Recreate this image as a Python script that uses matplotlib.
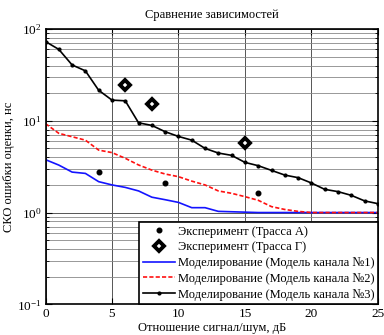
import matplotlib
matplotlib.use("Agg")
import matplotlib.pyplot as plt
from matplotlib.ticker import LogLocator, NullFormatter

plt.rcParams["font.family"] = ["Liberation Serif", "DejaVu Serif"]
plt.rcParams["mathtext.fontset"] = "stix"

snr = list(range(0, 26))
mod1 = [3.77, 3.29, 2.76, 2.67, 2.17, 2.0, 1.88, 1.72, 1.47, 1.38, 1.29, 1.13, 1.13,
        1.03, 1.02, 1.01, 1.0, 1.0, 1.0, 1.0, 1.0, 1.0, 1.0, 1.0, 1.0, 1.0]
mod2 = [9.3, 7.3, 6.7, 6.15, 4.79, 4.5, 3.9, 3.3, 2.9, 2.63, 2.46, 2.2, 2.0,
        1.72, 1.62, 1.49, 1.36, 1.16, 1.08, 1.03, 1.0, 1.0, 1.0, 1.0, 1.0, 1.0]
mod3 = [73, 60, 40.6, 35, 21.5, 16.8, 16.5, 9.5, 8.9, 7.6, 6.75, 6.15, 5.0,
        4.45, 4.2, 3.52, 3.24, 2.88, 2.56, 2.4, 2.1, 1.79, 1.69, 1.54, 1.34, 1.25]
exp_a_x = [4, 9, 16]
exp_a_y = [2.74, 2.1, 1.62]
exp_g_x = [6, 8, 15]
exp_g_y = [24.4, 15.2, 5.67]

fig = plt.figure(figsize=(3.84, 3.35), dpi=100)
ax = fig.add_axes([0.1185, 0.0916, 0.8655, 0.8218])

ax.plot(exp_a_x, exp_a_y, "o", color="k", ms=3.3, ls="none", label="Эксперимент (Трасса А)")
ax.plot(exp_g_x, exp_g_y, "D", mfc="white", mec="k", mew=2.8, ms=5.5, ls="none",
        label="Эксперимент (Трасса Г)")
ax.plot(snr, mod1, "-", color="#1414ff", lw=1.2, label="Моделирование (Модель канала №1)")
ax.plot(snr, mod2, "--", color="#ff1010", lw=1.2, dashes=(2.5, 1.3),
        label="Моделирование (Модель канала №2)")
ax.plot(snr, mod3, "-", color="k", lw=1.2, marker=".", ms=4,
        label="Моделирование (Модель канала №3)")

ax.set_yscale("log")
ax.set_xlim(0, 25)
ax.set_ylim(0.1, 100)
ax.set_xticks([0, 5, 10, 15, 20, 25])
ax.yaxis.set_major_locator(LogLocator(base=10, numticks=10))
ax.yaxis.set_minor_locator(LogLocator(base=10, subs=range(2, 10), numticks=10))
ax.yaxis.set_minor_formatter(NullFormatter())
ax.grid(True, which="major", color="#555555", lw=0.7)
ax.grid(True, which="minor", axis="y", color="#888888", lw=0.6)
ax.tick_params(which="both", direction="in", top=True, right=True, labelsize=9.5, pad=3)
ax.tick_params(which="major", length=4)
ax.tick_params(which="minor", length=2)
for s in ax.spines.values():
    s.set_linewidth(1.2)

ax.set_title("Сравнение зависимостей", fontsize=9, pad=8)
ax.set_xlabel("Отношение сигнал/шум, дБ", fontsize=9, labelpad=1)
ax.set_ylabel("СКО ошибки оценки, нс", fontsize=9, labelpad=1)

leg = ax.legend(loc="lower right", fontsize=9, borderaxespad=0, frameon=True,
                fancybox=False, edgecolor="k", framealpha=1, labelspacing=0.3,
                handlelength=2.6, handletextpad=0.2, borderpad=0.3)
leg.get_frame().set_linewidth(1.2)

fig.savefig("out.png", dpi=100)
